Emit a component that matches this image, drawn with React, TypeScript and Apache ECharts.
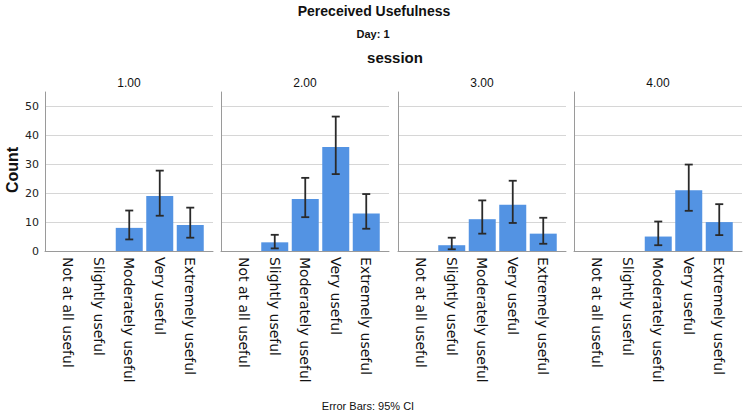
import React, { useEffect, useRef } from 'react';
import * as echarts from 'echarts';

const categories = ['Not at all useful', 'Slightly useful', 'Moderately useful', 'Very useful', 'Extremely useful'];
const sessions = ['1.00', '2.00', '3.00', '4.00'];
const counts = [
  [0, 0, 8, 19, 9],
  [0, 3, 18, 36, 13],
  [0, 2, 11, 16, 6],
  [0, 0, 5, 21, 10],
];
const ciLow = [
  [null, null, 4, 12.2, 4.6],
  [null, 0.9, 11.7, 26.6, 7.7],
  [null, 0.6, 6, 9.7, 2.5],
  [null, null, 2, 13.9, 5.5],
];
const ciHigh = [
  [null, null, 14, 27.8, 15],
  [null, 5.6, 25.3, 46.5, 19.7],
  [null, 4.6, 17.5, 24.3, 11.5],
  [null, null, 10.2, 29.9, 16.2],
];
const yMin = 0;
const yMax = 55;
const yInterval = 10;

const outerLeft = [45, 221, 398, 574];
const outerWidth = 168;
const innerPad = 8;
const innerWidth = 152.5;
const gridTop = 92;
const gridHeight = 159;

const AXIS = '#9a9a9a';
const GRIDC = '#d6d6d6';
const BAR = '#5393e3';
const FONT = '"Liberation Sans", Arial, sans-serif';
const LABEL_FONT = '"DejaVu Sans", sans-serif';

export default function App() {
  const ref = useRef<HTMLDivElement>(null);
  useEffect(() => {
    if (!ref.current) return;
    const chart = echarts.init(ref.current, undefined, { renderer: 'svg' });
    const grids: any[] = [];
    const xAxes: any[] = [];
    const yAxes: any[] = [];
    const series: any[] = [];
    // background grids (axis lines, gridlines, y labels)
    sessions.forEach((s, i) => {
      grids.push({ left: outerLeft[i], top: gridTop, width: outerWidth, height: gridHeight, containLabel: false });
      xAxes.push({
        type: 'category', gridIndex: i, data: categories,
        axisLine: { show: true, lineStyle: { color: AXIS, width: 1 } },
        axisTick: { show: false }, axisLabel: { show: false }, splitLine: { show: false },
      });
      yAxes.push({
        type: 'value', gridIndex: i, min: yMin, max: yMax, interval: yInterval,
        axisLine: { show: true, lineStyle: { color: AXIS, width: 1 } },
        axisTick: { show: false },
        axisLabel: {
          show: i === 0, fontSize: 11, color: '#222', margin: 6, fontFamily: LABEL_FONT,
          formatter: (v: number) => (v % yInterval === 0 ? String(v) : ''),
        },
        splitLine: { show: true, lineStyle: { color: [GRIDC, GRIDC, GRIDC, GRIDC, GRIDC, GRIDC, 'rgba(0,0,0,0)'], width: 1 } },
      });
    });
    // foreground grids (category labels, bars, error bars)
    sessions.forEach((s, i) => {
      const gi = 4 + i;
      grids.push({ left: outerLeft[i] + innerPad, top: gridTop, width: innerWidth, height: gridHeight, containLabel: false });
      xAxes.push({
        type: 'category', gridIndex: gi, data: categories,
        axisLine: { show: false }, axisTick: { show: false },
        axisLabel: { show: true, rotate: -90, margin: 6, fontSize: 14, color: '#111', fontFamily: LABEL_FONT, interval: 0 },
        splitLine: { show: false },
      });
      yAxes.push({ type: 'value', gridIndex: gi, min: yMin, max: yMax, interval: yInterval, show: false, splitLine: { show: false } });
      series.push({
        type: 'bar', xAxisIndex: gi, yAxisIndex: gi, data: counts[i], barWidth: 27,
        itemStyle: { color: BAR }, z: 2, silent: true,
      });
      const eb: any[] = [];
      ciLow[i].forEach((lo, k) => {
        const hi = ciHigh[i][k];
        if (lo != null && hi != null) eb.push([k, lo, hi]);
      });
      series.push({
        type: 'custom', xAxisIndex: gi, yAxisIndex: gi, data: eb, z: 3, silent: true,
        encode: { x: 0, y: [1, 2] },
        renderItem: (params: any, api: any) => {
          const x = api.value(0);
          const lo = api.coord([x, api.value(1)]);
          const hi = api.coord([x, api.value(2)]);
          const cap = 4;
          const st = { stroke: '#2a2a2a', lineWidth: 1.8 };
          return {
            type: 'group',
            children: [
              { type: 'line', shape: { x1: lo[0], y1: lo[1], x2: hi[0], y2: hi[1] }, style: st },
              { type: 'line', shape: { x1: lo[0] - cap, y1: lo[1], x2: lo[0] + cap, y2: lo[1] }, style: st },
              { type: 'line', shape: { x1: hi[0] - cap, y1: hi[1], x2: hi[0] + cap, y2: hi[1] }, style: st },
            ],
          };
        },
      });
    });

    const graphic: any[] = [
      { type: 'text', x: 374, y: 11, style: { text: 'Pereceived Usefulness', textAlign: 'center', textVerticalAlign: 'middle', font: `bold 14px ${FONT}`, fill: '#111' } },
      { type: 'text', x: 373, y: 34, style: { text: 'Day: 1', textAlign: 'center', textVerticalAlign: 'middle', font: `bold 11px ${FONT}`, fill: '#111' } },
      { type: 'text', x: 395, y: 57, style: { text: 'session', textAlign: 'center', textVerticalAlign: 'middle', font: `bold 15px ${FONT}`, fill: '#111' } },
      { type: 'text', x: 12, y: 170, rotation: Math.PI / 2, style: { text: 'Count', textAlign: 'center', textVerticalAlign: 'middle', font: `bold 16px ${FONT}`, fill: '#111' } },
      { type: 'text', x: 368, y: 406, style: { text: 'Error Bars: 95% CI', textAlign: 'center', textVerticalAlign: 'middle', font: `11px ${FONT}`, fill: '#111' } },
    ];
    sessions.forEach((s, i) => {
      graphic.push({ type: 'text', x: outerLeft[i] + outerWidth / 2, y: 83, style: { text: s, textAlign: 'center', textVerticalAlign: 'middle', font: `12px ${FONT}`, fill: '#111' } });
    });

    chart.setOption({
      animation: false,
      backgroundColor: '#ffffff',
      grid: grids,
      xAxis: xAxes,
      yAxis: yAxes,
      series,
      graphic,
    });
    return () => chart.dispose();
  }, []);
  return <div ref={ref} style={{ position: 'absolute', left: 0, top: 0, width: 746, height: 414 }} />;
}
